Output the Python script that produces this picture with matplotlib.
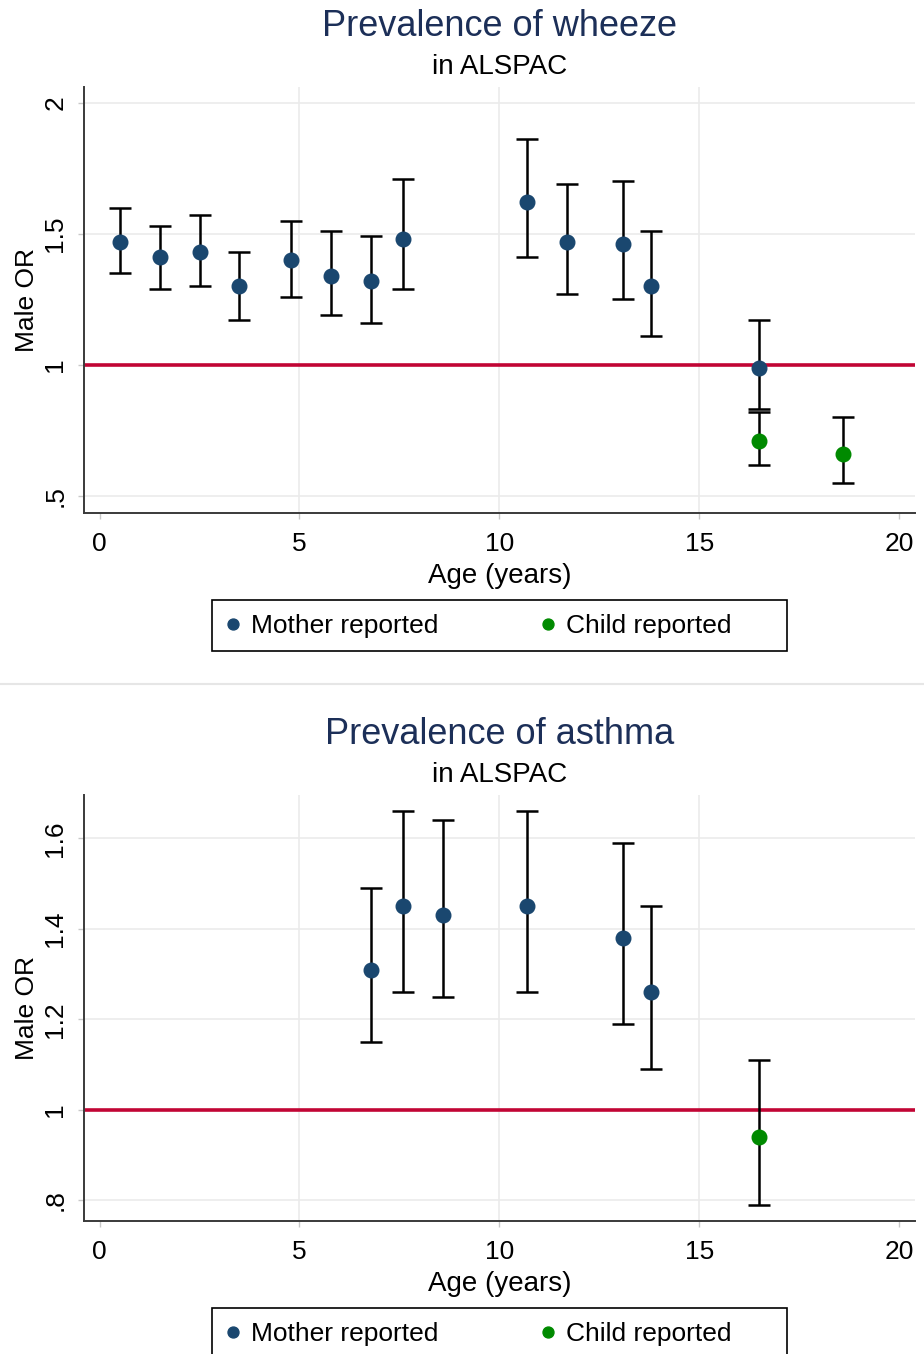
import matplotlib
matplotlib.use("Agg")
import matplotlib.pyplot as plt
from matplotlib.lines import Line2D
from matplotlib.patches import Rectangle

plt.rcParams['font.family'] = ['Liberation Sans', 'DejaVu Sans']

# wheeze: mother reported
wz_age_m = [0.5, 1.5, 2.5, 3.5, 4.8, 5.8, 6.8, 7.6, 10.7, 11.7, 13.1, 13.8, 16.5]
wz_or_m = [1.47, 1.41, 1.43, 1.30, 1.40, 1.34, 1.32, 1.48, 1.62, 1.47, 1.46, 1.30, 0.99]
wz_lo_m = [1.35, 1.29, 1.30, 1.17, 1.26, 1.19, 1.16, 1.29, 1.41, 1.27, 1.25, 1.11, 0.83]
wz_hi_m = [1.60, 1.53, 1.57, 1.43, 1.55, 1.51, 1.49, 1.71, 1.86, 1.69, 1.70, 1.51, 1.17]
# wheeze: child reported
wz_age_c = [16.5, 18.6]
wz_or_c = [0.71, 0.66]
wz_lo_c = [0.62, 0.55]
wz_hi_c = [0.82, 0.80]

# asthma: mother reported
as_age_m = [6.8, 7.6, 8.6, 10.7, 13.1, 13.8]
as_or_m = [1.31, 1.45, 1.43, 1.45, 1.38, 1.26]
as_lo_m = [1.15, 1.26, 1.25, 1.26, 1.19, 1.09]
as_hi_m = [1.49, 1.66, 1.64, 1.66, 1.59, 1.45]
# asthma: child reported
as_age_c = [16.5]
as_or_c = [0.94]
as_lo_c = [0.79]
as_hi_c = [1.11]

NAVY = '#1a476f'
GREEN = '#008a00'
RED = '#c10534'
TITLE = '#1c2f58'
GRID = '#ebebeb'

W, H = 924, 1354
fig = plt.figure(figsize=(W / 100, H / 100), dpi=100)


def panel(top_px, title, ylim, yticks, yticklabels,
          age_m, or_m, lo_m, hi_m, age_c, or_c, lo_c, hi_c):
    left, right, bottom = 84, 915, top_px + 426
    ax = fig.add_axes([left / W, 1 - bottom / H, (right - left) / W, 426 / H])
    ax.set_xlim(-0.39, 20.4)
    ax.set_ylim(*ylim)

    for v in yticks:
        ax.axhline(v, color=GRID, lw=1.2, zorder=0)
    for v in [5, 10, 15]:
        ax.axvline(v, color=GRID, lw=1.2, zorder=0)
    ax.axhline(1, color=RED, lw=2.6, zorder=1)

    for a, o, lo, hi in [(age_m, or_m, lo_m, hi_m), (age_c, or_c, lo_c, hi_c)]:
        err = [[oo - l for oo, l in zip(o, lo)], [h - oo for oo, h in zip(o, hi)]]
        ax.errorbar(a, o, yerr=err, fmt='none', ecolor='black', elinewidth=1.8,
                    capsize=8, capthick=1.8, zorder=2)
    hm, = ax.plot(age_m, or_m, 'o', color=NAVY, ms=10.5, mec=NAVY, zorder=3,
                  label='Mother reported')
    hc, = ax.plot(age_c, or_c, 'o', color=GREEN, ms=10.5, mec=GREEN, zorder=3,
                  label='Child reported')

    ax.set_xticks([0, 5, 10, 15, 20])
    ax.set_yticks(yticks)
    ax.set_yticklabels(yticklabels, rotation=90, va='center')
    ax.tick_params(axis='both', labelsize=19, color='#c8c8c8', length=4, width=1)
    ax.tick_params(axis='x', pad=10)
    ax.tick_params(axis='y', pad=8)
    for s in ['top', 'right']:
        ax.spines[s].set_visible(False)
    for s in ['left', 'bottom']:
        ax.spines[s].set_color('#3a3a3a')
        ax.spines[s].set_linewidth(1.4)
    ax.set_xlabel('Age (years)', fontsize=20, labelpad=5)
    ax.set_ylabel('Male OR', fontsize=19, labelpad=3)

    fig.text(0.5405, 1 - (top_px - 60) / H, title, fontsize=26, color=TITLE,
             ha='center', va='center')
    fig.text(0.5405, 1 - (top_px - 20) / H, 'in ALSPAC', fontsize=20,
             color='black', ha='center', va='center')

    # legend box
    leg_top = bottom + 87
    fig.add_artist(Rectangle((212 / W, 1 - (leg_top + 51) / H), 575 / W, 51 / H,
                             transform=fig.transFigure, fill=False,
                             edgecolor='black', lw=1.2))
    ax.legend(handles=[hm, hc], loc='center left', ncol=2,
              bbox_to_anchor=(225 / W, 1 - (leg_top + 26) / H),
              bbox_transform=fig.transFigure, fontsize=19, markerscale=0.75,
              frameon=False, handlelength=0.6, handletextpad=0.38,
              borderpad=0, borderaxespad=0, columnspacing=3.85)
    return ax


panel(87, 'Prevalence of wheeze', (0.435, 2.06), [0.5, 1, 1.5, 2],
      ['.5', '1', '1.5', '2'],
      wz_age_m, wz_or_m, wz_lo_m, wz_hi_m, wz_age_c, wz_or_c, wz_lo_c, wz_hi_c)
panel(795, 'Prevalence of asthma', (0.754, 1.696), [0.8, 1, 1.2, 1.4, 1.6],
      ['.8', '1', '1.2', '1.4', '1.6'],
      as_age_m, as_or_m, as_lo_m, as_hi_m, as_age_c, as_or_c, as_lo_c, as_hi_c)

fig.add_artist(Line2D([0, 1], [1 - 684 / H, 1 - 684 / H], color='#e6e6e6', lw=1.5,
                      transform=fig.transFigure))

fig.savefig('out.png', dpi=100)
